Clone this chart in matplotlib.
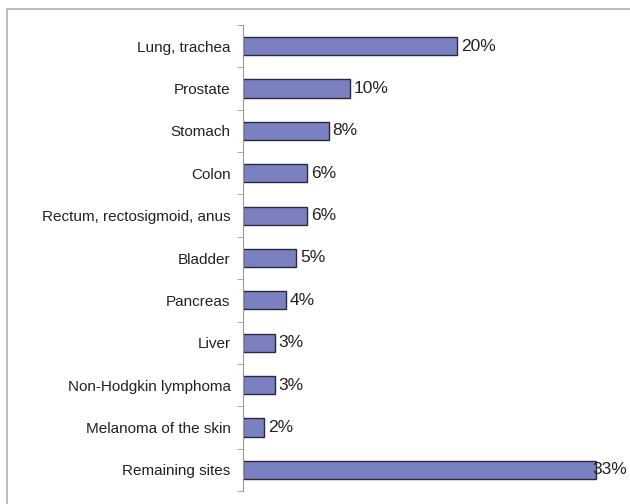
import matplotlib.pyplot as plt
import matplotlib.patches as patches
import numpy as np

# data (top to bottom as shown)
sites = ['Lung, trachea', 'Prostate', 'Stomach', 'Colon',
         'Rectum, rectosigmoid, anus', 'Bladder', 'Pancreas', 'Liver',
         'Non-Hodgkin lymphoma', 'Melanoma of the skin', 'Remaining sites']
pct = [20, 10, 8, 6, 6, 5, 4, 3, 3, 2, 33]

plt.rcParams['font.family'] = ['Liberation Sans', 'DejaVu Sans']

fig = plt.figure(figsize=(6.3, 5.04), dpi=100)
ax = fig.add_axes([243/630, 1 - 491/504, (628 - 243)/630, (491 - 25)/504])

xmax = 36
y = np.arange(len(sites))
ax.barh(y, pct, height=0.43, color='#7b80c0', edgecolor='#2a2a3a', linewidth=1.0)
for yi, v in zip(y, pct):
    if v + 3.5 > xmax:
        # no room right of the bar: label overlaps the bar end like the original
        ax.text(xmax - 0.05, yi, f'{v}%', va='center', ha='right', fontsize=12.5, color='#222222')
    else:
        ax.text(v + 0.35, yi, f'{v}%', va='center', ha='left', fontsize=12.5, color='#222222')

ax.set_ylim(len(sites) - 0.5, -0.5)
ax.set_xlim(0, xmax)
ax.set_yticks(y)
ax.set_yticklabels(sites, fontsize=11, color='#222222')
ax.set_yticks(np.arange(-0.5, len(sites)), minor=True)
ax.tick_params(axis='y', which='major', length=0, pad=9)
ax.tick_params(axis='y', which='minor', length=4, color='#999999', direction='out')
ax.set_xticks([])
for s in ['top', 'right', 'bottom']:
    ax.spines[s].set_visible(False)
ax.spines['left'].set_color('#999999')

# outer chart border
fig.patches.append(patches.Rectangle((7/630, -0.01), 1.0, 1 - 9/504 + 0.01,
                                     transform=fig.transFigure, fill=False,
                                     edgecolor='#b0b0b0', linewidth=1.2))

fig.savefig('out.png', dpi=100)
